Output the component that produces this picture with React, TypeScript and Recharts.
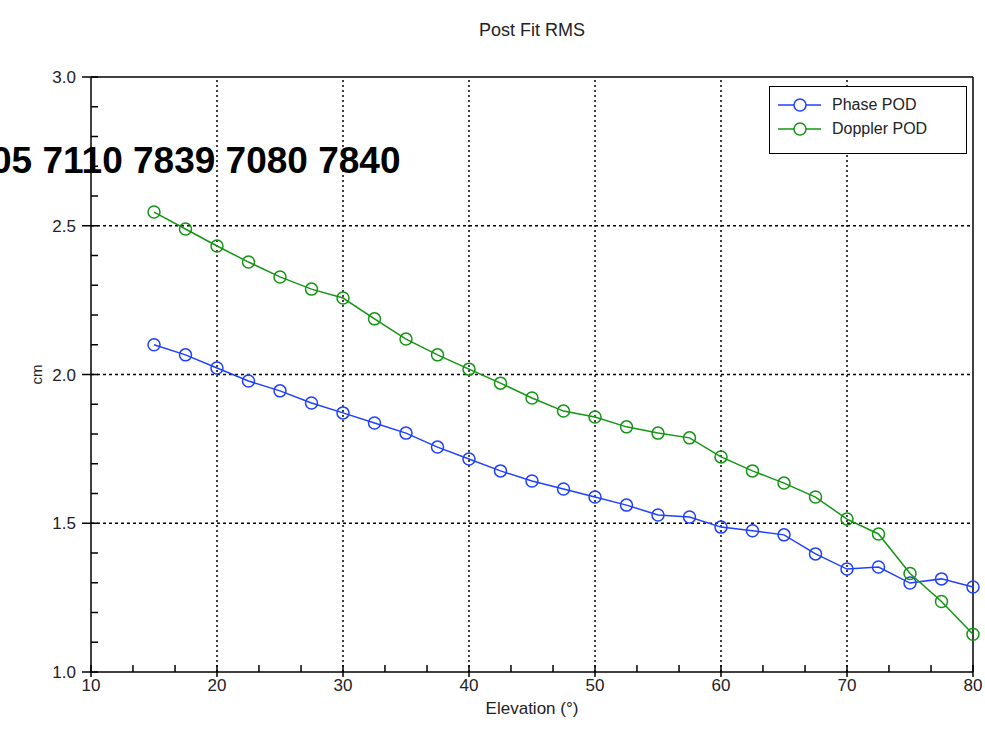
import { LineChart, Line, XAxis, YAxis, ReferenceLine, Legend } from "recharts";

const ELEVATION = [15, 17.5, 20, 22.5, 25, 27.5, 30, 32.5, 35, 37.5, 40, 42.5, 45, 47.5, 50, 52.5, 55, 57.5, 60, 62.5, 65, 67.5, 70, 72.5, 75, 77.5, 80];
const PHASE_POD = [2.1, 2.066, 2.022, 1.978, 1.945, 1.904, 1.871, 1.837, 1.803, 1.756, 1.716, 1.676, 1.642, 1.615, 1.588, 1.561, 1.528, 1.521, 1.487, 1.475, 1.461, 1.397, 1.346, 1.353, 1.299, 1.313, 1.286];
const DOPPLER_POD = [2.546, 2.489, 2.432, 2.378, 2.328, 2.287, 2.257, 2.187, 2.119, 2.066, 2.018, 1.971, 1.921, 1.877, 1.857, 1.824, 1.803, 1.787, 1.723, 1.676, 1.635, 1.588, 1.514, 1.464, 1.331, 1.237, 1.127];

const X_MAJOR = [10, 20, 30, 40, 50, 60, 70, 80];
const X_MINOR = [13.33, 16.67, 23.33, 26.67, 33.33, 36.67, 43.33, 46.67, 53.33, 56.67, 63.33, 66.67, 73.33, 76.67];
const Y_MAJOR = [1, 1.5, 2, 2.5, 3];
const Y_MINOR = [1.1, 1.2, 1.3, 1.4, 1.6, 1.7, 1.8, 1.9, 2.1, 2.2, 2.3, 2.4, 2.6, 2.7, 2.8, 2.9];
const X_GRID = [20, 30, 40, 50, 60, 70];
const Y_GRID = [1.5, 2, 2.5];
const LEGEND_ORDER = ["Phase POD", "Doppler POD"];

const OVERLAY = "05 7110 7839 7080 7840";

const data = ELEVATION.map((e, i) => ({ elev: e, phase: PHASE_POD[i], doppler: DOPPLER_POD[i] }));

const FONT = "'Liberation Sans', Arial, sans-serif";
const BLUE = "#2040ff";
const GREEN = "#149614";
const LABEL = "#222";

function XTick({ x, y, payload }: any) {
  const major = X_MAJOR.includes(payload.value);
  return (
    <g>
      <line x1={x} x2={x} y1={y - 7} y2={major ? y + 5 : y} stroke="#000" strokeWidth={1.5} />
      {major && (
        <text x={x} y={y + 19} textAnchor="middle" fontSize={17} fontFamily={FONT} fill={LABEL}>
          {payload.value}
        </text>
      )}
    </g>
  );
}

function YTick({ x, y, payload }: any) {
  const major = Y_MAJOR.includes(payload.value);
  return (
    <g>
      <line x1={major ? x - 9 : x} x2={x + 7} y1={y} y2={y} stroke="#000" strokeWidth={1.5} />
      {major && (
        <text x={x - 15} y={y + 6} textAnchor="end" fontSize={17} fontFamily={FONT} fill={LABEL}>
          {payload.value.toFixed(1)}
        </text>
      )}
    </g>
  );
}

function LegendBox({ payload }: any) {
  const items = [...(payload || [])].sort((a: any, b: any) => LEGEND_ORDER.indexOf(a.value) - LEGEND_ORDER.indexOf(b.value));
  return (
    <div style={{ width: 198, height: 68, border: "1.5px solid #000", background: "#fff", padding: "6px 0 0 0", boxSizing: "border-box" }}>
      {items.map((p: any) => (
        <div key={p.value} style={{ display: "flex", alignItems: "center", height: 24 }}>
          <svg width={56} height={20} style={{ marginLeft: 6 }}>
            <line x1={2} x2={45} y1={10} y2={10} stroke={p.color} strokeWidth={1.5} />
            <circle cx={24} cy={10} r={6} fill="#fff" stroke={p.color} strokeWidth={1.5} />
          </svg>
          <span style={{ fontFamily: FONT, fontSize: 16, color: LABEL }}>{p.value}</span>
        </div>
      ))}
    </div>
  );
}

export default function App() {
  return (
    <div style={{ position: "absolute", left: 0, top: 0, width: 985, height: 735, background: "#fff" }}>
      <div style={{ position: "absolute", left: 0, width: 1064, top: 20, textAlign: "center", fontFamily: FONT, fontSize: 18, color: LABEL }}>
        Post Fit RMS
      </div>
      <LineChart width={985} height={735} data={data} margin={{ top: 77, right: 12, bottom: 62, left: 90 }}>
        {X_GRID.map((v) => (
          <ReferenceLine key={"gx" + v} x={v} stroke="#000" strokeWidth={1.5} strokeDasharray="2 3" />
        ))}
        {Y_GRID.map((v) => (
          <ReferenceLine key={"gy" + v} y={v} stroke="#000" strokeWidth={1.5} strokeDasharray="3 3" />
        ))}
        <ReferenceLine y={3} stroke="#000" strokeWidth={1.5} />
        <ReferenceLine x={80} stroke="#000" strokeWidth={1.5} />
        <XAxis
          dataKey="elev"
          type="number"
          domain={[10, 80]}
          ticks={[...X_MAJOR, ...X_MINOR].sort((a, b) => a - b)}
          interval={0}
          height={1}
          tickSize={0}
          tickMargin={0}
          tickLine={false}
          axisLine={{ stroke: "#000", strokeWidth: 1.5 }}
          tick={<XTick />}
          label={{
            content: (p: any) => (
              <text x={p.viewBox.x + p.viewBox.width / 2} y={p.viewBox.y + 42} textAnchor="middle" fontSize={17} fontFamily={FONT} fill={LABEL}>
                Elevation (°)
              </text>
            ),
          }}
        />
        <YAxis
          type="number"
          domain={[1, 3]}
          ticks={[...Y_MAJOR, ...Y_MINOR].sort((a, b) => a - b)}
          interval={0}
          width={1}
          tickSize={0}
          tickMargin={0}
          tickLine={false}
          axisLine={{ stroke: "#000", strokeWidth: 1.5 }}
          tick={<YTick />}
          label={{
            content: (p: any) => {
              const cx = p.viewBox.x - 52;
              const cy = p.viewBox.y + p.viewBox.height / 2;
              return (
                <text x={cx} y={cy} transform={`rotate(-90 ${cx} ${cy})`} textAnchor="middle" dominantBaseline="middle" fontSize={15} fontFamily={FONT} fill={LABEL}>
                  cm
                </text>
              );
            },
          }}
        />
        <Legend
          layout="vertical"
          align="center"
          verticalAlign="middle"
          wrapperStyle={{ left: 769, top: 86, width: 198, height: 68 }}
          content={<LegendBox />}
        />
        <Line
          dataKey="phase"
          name="Phase POD"
          stroke={BLUE}
          strokeWidth={1.5}
          dot={{ r: 6, fill: "none", stroke: BLUE, strokeWidth: 1.5 }}
          activeDot={false}
          isAnimationActive={false}
        />
        <Line
          dataKey="doppler"
          name="Doppler POD"
          stroke={GREEN}
          strokeWidth={1.5}
          dot={{ r: 6, fill: "none", stroke: GREEN, strokeWidth: 1.5 }}
          activeDot={false}
          isAnimationActive={false}
        />
      </LineChart>
      <div style={{ position: "absolute", left: -9, top: 142, fontFamily: FONT, fontWeight: "bold", fontSize: 37, lineHeight: "37px", color: "#000", whiteSpace: "nowrap" }}>
        {OVERLAY}
      </div>
    </div>
  );
}
